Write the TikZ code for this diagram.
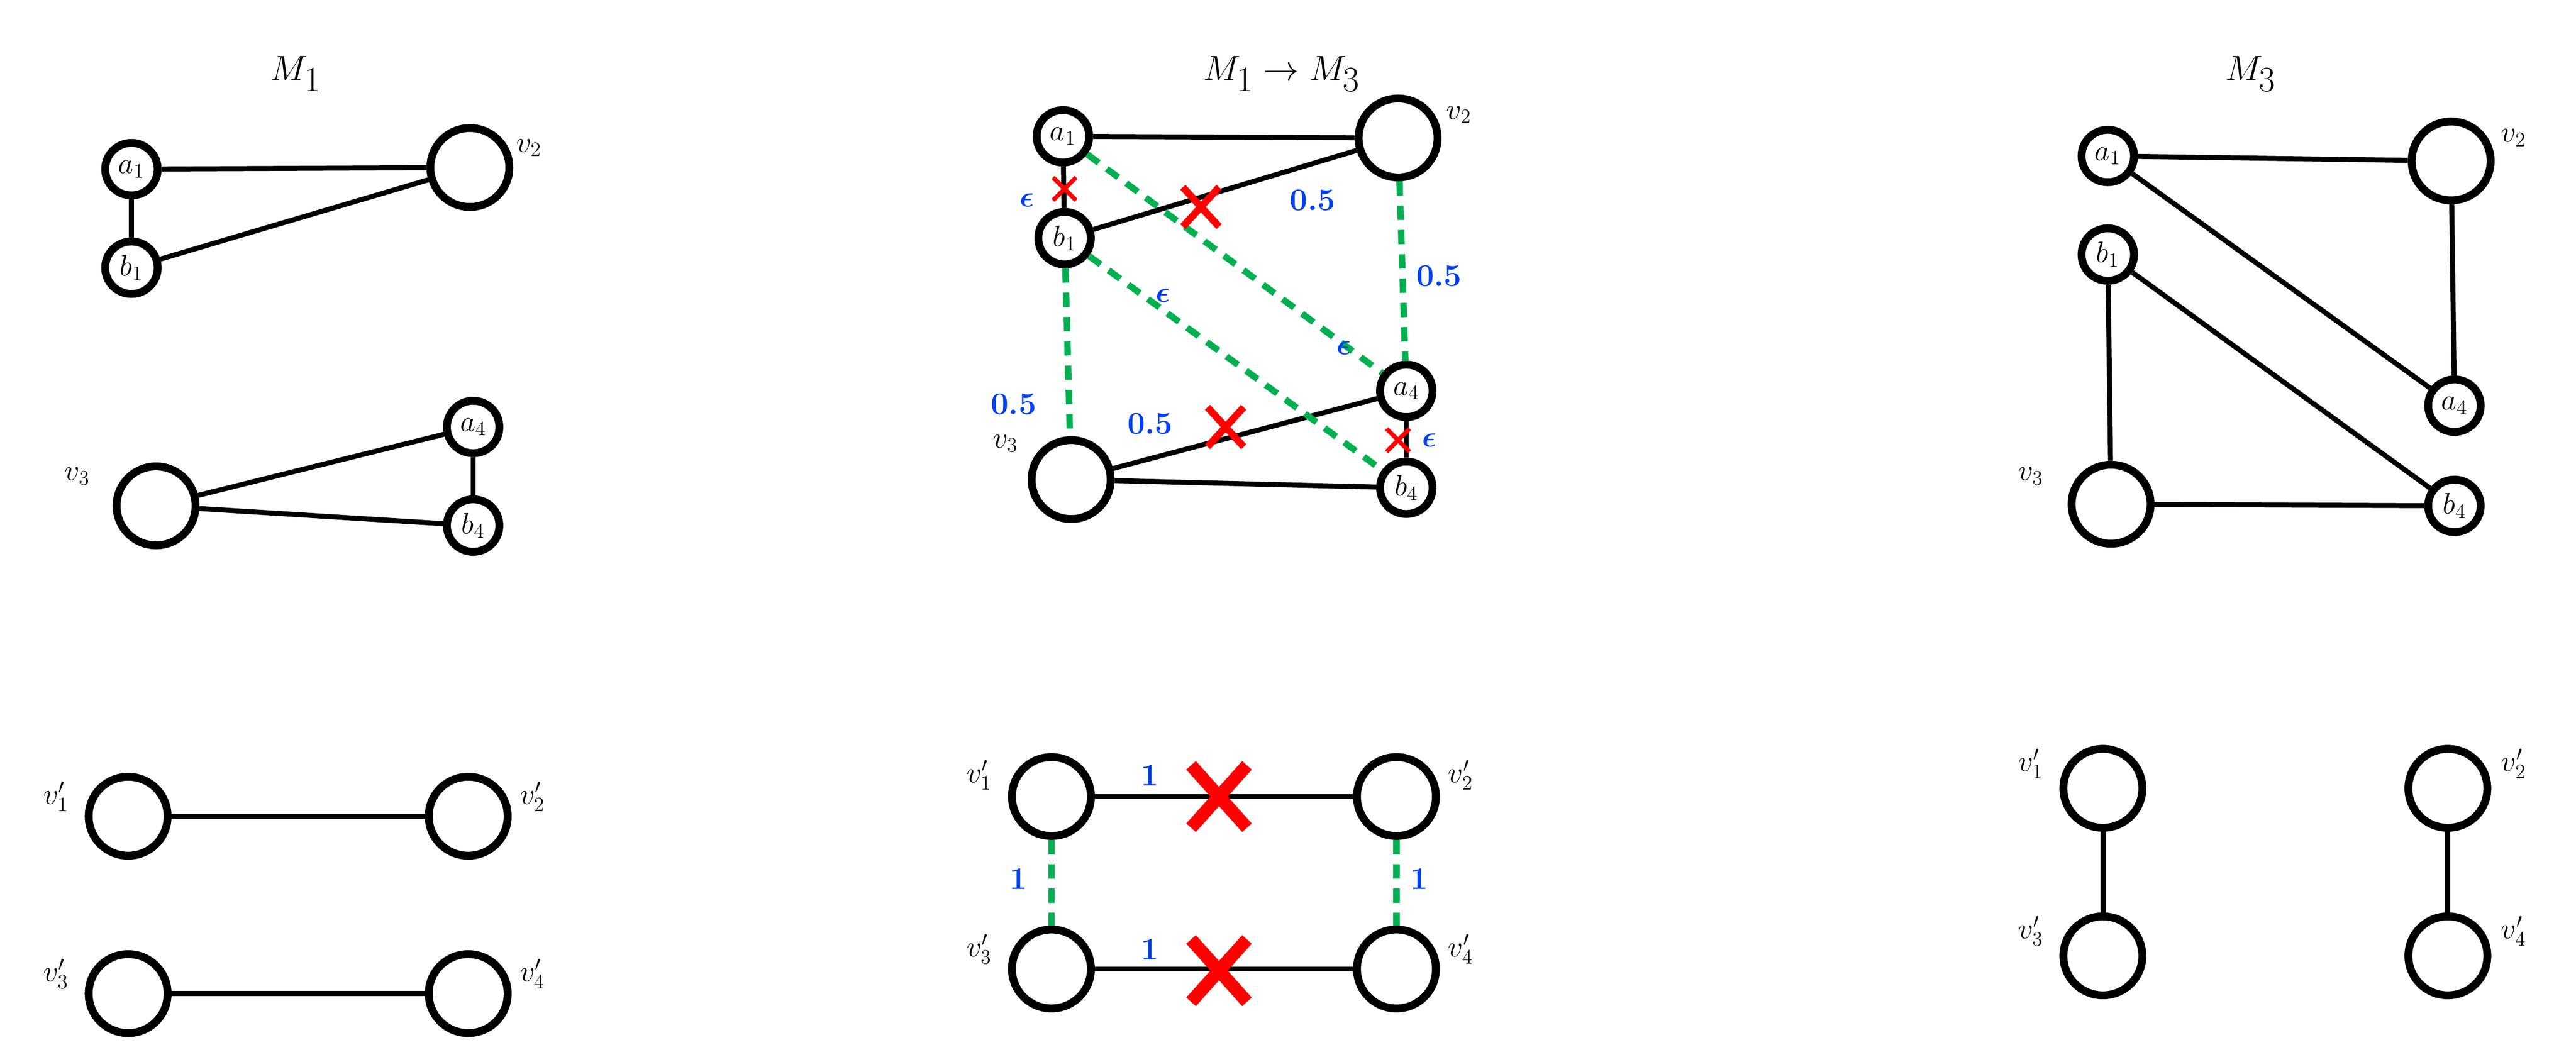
\documentclass[tikz,border=0pt]{standalone}
\usepackage{bm}
\usetikzlibrary{calc}
\begin{document}
\begin{tikzpicture}[x=0.04036cm,y=-0.04036cm,
  sm/.style={circle,draw,line width=5.5pt,minimum size=1.29cm,inner sep=0pt,font=\fontsize{22}{24}\selectfont},
  lg/.style={circle,draw,line width=5.5pt,minimum size=1.94cm,inner sep=0pt},
  ed/.style={line width=3.5pt},
  gd/.style={line width=4.5pt,draw={rgb,255:red,0;green,176;blue,80},dash pattern=on 10pt off 7pt},
  lab/.style={font=\fontsize{22}{24}\selectfont},
  wt/.style={text={rgb,255:red,0;green,64;blue,240},font=\fontsize{22}{24}\selectfont\bfseries},
  ttl/.style={font=\fontsize{36}{40}\selectfont}]
\useasboundingbox (0,0) rectangle (1568,636);
% ---------- left ----------
\node[ttl] (t1) at (180,45) {$M_1$};
\node[sm] (la1) at (80,103) {$a_1$};
\node[sm] (lb1) at (80,163) {$b_1$};
\node[lg] (lv2) at (286,102) {};
\node[sm] (la4) at (288,260) {$a_4$};
\node[sm] (lb4) at (288,320) {$b_4$};
\node[lg] (lv3) at (95,308) {};
\node[lab] at (322,90) {$v_2$};
\node[lab] at (47,290) {$v_3$};
\draw[ed] (la1)--(lv2) (la1)--(lb1) (lb1)--(lv2) (lv3)--(la4) (la4)--(lb4) (lv3)--(lb4);
\node[lg] (lp1) at (78,497) {};
\node[lg] (lp2) at (285,497) {};
\node[lg] (lp3) at (78,605) {};
\node[lg] (lp4) at (285,605) {};
\node[lab] at (34,485) {$v'_1$};
\node[lab] at (324,485) {$v'_2$};
\node[lab] at (34,593) {$v'_3$};
\node[lab] at (324,593) {$v'_4$};
\draw[ed] (lp1)--(lp2) (lp3)--(lp4);
% ---------- middle ----------
\node[ttl] (t2) at (780,45) {$M_1\rightarrow M_3$};
\node[sm] (ma1) at (647,83) {$a_1$};
\node[sm] (mb1) at (648,145) {$b_1$};
\node[lg] (mv2) at (851,84) {};
\node[sm] (ma4) at (856,238) {$a_4$};
\node[sm] (mb4) at (856,297) {$b_4$};
\node[lg] (mv3) at (652,292) {};
\node[lab] at (888,70) {$v_2$};
\node[lab] at (612,270) {$v_3$};
\draw[ed] (ma1)--(mv2) (ma1)--(mb1) (mb1)--(mv2) (mv3)--(ma4) (ma4)--(mb4) (mv3)--(mb4);
\draw[gd] (ma1)--(ma4) (mb1)--(mb4) (mb1)--(mv3) (mv2)--(ma4);
\coordinate (x1) at (648,115);
\coordinate (x2) at (731,126);
\coordinate (x3) at (746,260);
\coordinate (x4) at (851,268);
\draw[red,line width=3pt] ($(x1)+(-7,-7)$)--($(x1)+(7,7)$) ($(x1)+(-7,7)$)--($(x1)+(7,-7)$);
\draw[red,line width=3pt] ($(x4)+(-7,-7)$)--($(x4)+(7,7)$) ($(x4)+(-7,7)$)--($(x4)+(7,-7)$);
\draw[red,line width=5pt] ($(x2)+(-11,-12)$)--($(x2)+(11,12)$) ($(x2)+(-11,12)$)--($(x2)+(11,-12)$);
\draw[red,line width=5pt] ($(x3)+(-11,-12)$)--($(x3)+(11,12)$) ($(x3)+(-11,12)$)--($(x3)+(11,-12)$);
\node[wt] at (625,122) {$\bm\epsilon$};
\node[wt] at (799,122) {0.5};
\node[wt] at (876,168) {0.5};
\node[wt] at (708,180) {$\bm\epsilon$};
\node[wt] at (818,212) {$\bm\epsilon$};
\node[wt] at (617,246) {0.5};
\node[wt] at (700,258) {0.5};
\node[wt] at (870,268) {$\bm\epsilon$};
\node[lg] (mp1) at (640,485) {};
\node[lg] (mp2) at (850,485) {};
\node[lg] (mp3) at (640,590) {};
\node[lg] (mp4) at (850,590) {};
\node[lab] at (596,472) {$v'_1$};
\node[lab] at (889,472) {$v'_2$};
\node[lab] at (596,578) {$v'_3$};
\node[lab] at (889,578) {$v'_4$};
\draw[ed] (mp1)--(mp2) (mp3)--(mp4);
\draw[gd] (mp1)--(mp3) (mp2)--(mp4);
\coordinate (x5) at (742,485);
\coordinate (x6) at (742,591);
\draw[red,line width=9pt] ($(x5)+(-17,-19)$)--($(x5)+(17,19)$) ($(x5)+(-17,19)$)--($(x5)+(17,-19)$);
\draw[red,line width=9pt] ($(x6)+(-17,-19)$)--($(x6)+(17,19)$) ($(x6)+(-17,19)$)--($(x6)+(17,-19)$);
\node[wt] at (700,472) {1};
\node[wt] at (700,578) {1};
\node[wt] at (620,535) {1};
\node[wt] at (864,535) {1};
% ---------- right ----------
\node[ttl] (t3) at (1370,45) {$M_3$};
\node[sm] (ra1) at (1283,95) {$a_1$};
\node[sm] (rb1) at (1283,155) {$b_1$};
\node[lg] (rv2) at (1492,98) {};
\node[sm] (ra4) at (1494,247) {$a_4$};
\node[sm] (rb4) at (1494,308) {$b_4$};
\node[lg] (rv3) at (1285,307) {};
\node[lab] at (1530,84) {$v_2$};
\node[lab] at (1236,290) {$v_3$};
\draw[ed] (ra1)--(rv2) (rv2)--(ra4) (ra1)--(ra4) (rb1)--(rb4) (rb1)--(rv3) (rv3)--(rb4);
\node[lg] (rp1) at (1280,480) {};
\node[lg] (rp2) at (1490,480) {};
\node[lg] (rp3) at (1280,582) {};
\node[lg] (rp4) at (1490,582) {};
\node[lab] at (1236,465) {$v'_1$};
\node[lab] at (1530,465) {$v'_2$};
\node[lab] at (1236,567) {$v'_3$};
\node[lab] at (1530,567) {$v'_4$};
\draw[ed] (rp1)--(rp3) (rp2)--(rp4);
\end{tikzpicture}
\end{document}
